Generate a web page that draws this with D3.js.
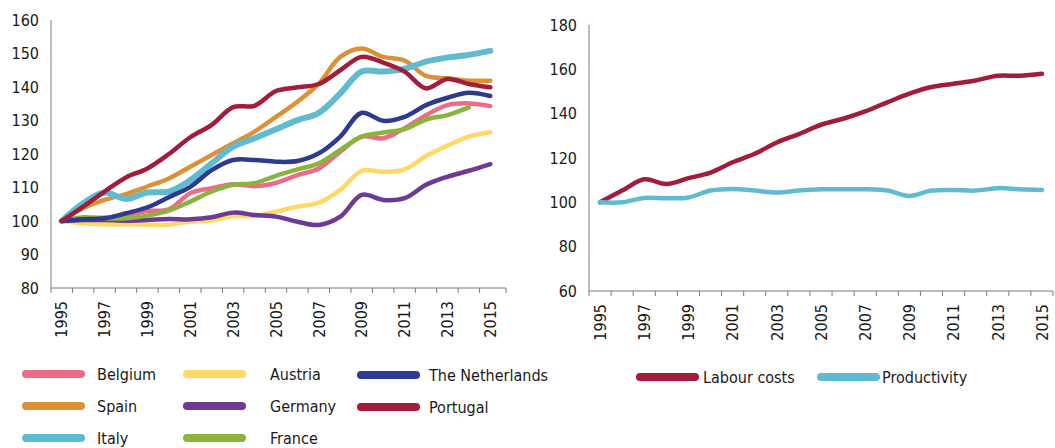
<!DOCTYPE html>
<html>
<head>
<meta charset="utf-8">
<script src="https://cdn.jsdelivr.net/npm/d3@7"></script>
<style>
  body { margin: 0; background: #fff; }
  svg { display: block; }
  .tick-label { font-family: "DejaVu Sans Condensed", "DejaVu Sans", sans-serif; font-size: 16px; fill: #1a1a1a; }
  .legend-label { font-family: "DejaVu Sans Condensed", "DejaVu Sans", sans-serif; font-size: 16px; fill: #1a1a1a; }
</style>
</head>
<body>
<svg width="1055" height="448"></svg>
<script>
var years = d3.range(1995, 2016);

// left panel: index 1995 = 100
var belgium     = [100,100.8,101,101.8,103,103.5,108.3,109.8,111,110.4,111.4,113.7,115.7,120.7,125.2,124.7,127.7,131.6,134.6,135.1,134.3];
var spain       = [100,103.8,106.3,108,110.3,112.7,116.2,119.7,123.2,126.7,131.1,135.6,141,149,151.5,149,147.9,143.3,142.6,141.9,141.9];
var italy       = [100,105.3,108.5,106.6,108.5,108.8,112.2,117.2,122.2,124.7,127.4,130.1,132.3,138.1,144.6,144.6,145.4,147.6,148.8,149.6,150.8];
var austria     = [100,99.3,99,99,98.9,98.9,99.8,100.1,101.5,101.5,102.8,104.3,105.5,109.3,115,114.7,115.4,119.4,122.5,125.2,126.5];
var germany     = [100,100.3,100.3,100.1,100.3,100.6,100.5,101.1,102.5,101.8,101.3,99.8,98.8,101.3,107.8,106.3,106.8,110.8,113.2,115,117];
var france      = [100,101.1,100.8,100.8,101.6,103.1,105.8,108.8,110.8,111.3,113.5,115.4,117.2,121.2,125.2,126.4,127.4,130.3,131.6,133.9,null];
var netherlands = [100,100.5,100.8,102.3,104.1,107.1,110.2,115.2,118.2,118.2,117.7,117.9,120.2,125.2,132.3,129.9,131.1,134.6,136.8,138.3,137.3];
var portugal    = [100,104.3,108.8,113,115.7,120,125,128.7,134,134.4,138.8,139.9,140.9,145,149,147.3,144.6,139.6,142.4,140.9,139.9];

// right panel
var labourCosts  = [100,105.3,110.4,108.3,110.9,113.4,118.1,121.9,127,130.8,135,137.7,141,145.1,149,152,153.5,155,157.1,157.1,158];
var productivity = [100,100,102,101.8,102.2,105.3,106,105.3,104.4,105.3,105.9,105.9,105.9,105.3,102.9,105.3,105.6,105.3,106.4,105.9,105.6];

var leftTicks = [80, 90, 100, 110, 120, 130, 140, 150, 160];
var rightTicks = [60, 80, 100, 120, 140, 160, 180];
var yearLabels = years.filter(function(y) { return (y - 1995) % 2 === 0; });

var leftSeries = [
  { name: "Belgium", values: belgium, color: "#ec6b89", width: 4.5 },
  { name: "Spain", values: spain, color: "#dd9136", width: 4.5 },
  { name: "Italy", values: italy, color: "#5fbcd0", width: 6 },
  { name: "Austria", values: austria, color: "#ffd966", width: 4.5 },
  { name: "Germany", values: germany, color: "#6d3a96", width: 4.5 },
  { name: "France", values: france, color: "#8bb43f", width: 4.5 },
  { name: "The Netherlands", values: netherlands, color: "#2e3a8e", width: 4.5 },
  { name: "Portugal", values: portugal, color: "#a21d3b", width: 4.5 }
];
var rightSeries = [
  { name: "Labour costs", values: labourCosts, color: "#a21d3b", width: 4.5 },
  { name: "Productivity", values: productivity, color: "#5fbcd0", width: 4.5 }
];

var svg = d3.select("svg");

function drawPanel(cfg) {
  var x = d3.scaleBand().domain(years).range([cfg.x0, cfg.x1]);
  var y = d3.scaleLinear().domain(cfg.domain).range([cfg.y1, cfg.y0]);
  var g = svg.append("g");

  // axes
  g.append("line").attr("x1", cfg.x0).attr("x2", cfg.x0).attr("y1", cfg.y0).attr("y2", cfg.y1)
    .attr("stroke", "#7a7a7a").attr("stroke-width", 1);
  g.append("line").attr("x1", cfg.x0).attr("x2", cfg.axisEnd).attr("y1", cfg.y1).attr("y2", cfg.y1)
    .attr("stroke", "#7a7a7a").attr("stroke-width", 1);
  var bounds = years.map(function(yr) { return x(yr); }).concat([cfg.axisEnd]);
  g.selectAll(".xt").data(bounds).join("line")
    .attr("x1", d => d).attr("x2", d => d)
    .attr("y1", cfg.y1).attr("y2", cfg.y1 + 5)
    .attr("stroke", "#7a7a7a");

  g.selectAll(".yl").data(cfg.ticks).join("text")
    .attr("class", "tick-label")
    .attr("x", cfg.x0 - 12)
    .attr("y", d => y(d))
    .attr("dy", "0.36em")
    .attr("text-anchor", "end")
    .text(d => d);

  g.selectAll(".xl").data(yearLabels).join("text")
    .attr("class", "tick-label")
    .attr("text-anchor", "end")
    .attr("transform", d => "translate(" + (x(d) + x.bandwidth() / 2) + "," + (cfg.y1 + 13) + ") rotate(-90)")
    .attr("dy", "0.36em")
    .text(d => d);

  var line = d3.line()
    .defined(d => d.v != null)
    .x(d => x(d.year) + x.bandwidth() / 2)
    .y(d => y(d.v))
    .curve(d3.curveCatmullRom.alpha(0.5));

  cfg.series.forEach(function(s) {
    var pts = years.map((yr, i) => ({ year: yr, v: s.values[i] })).filter(d => d.v != null);
    g.append("path")
      .datum(pts)
      .attr("d", line)
      .attr("fill", "none")
      .attr("stroke", s.color)
      .attr("stroke-width", s.width)
      .attr("stroke-linecap", "round")
      .attr("stroke-linejoin", "round");
  });
}

drawPanel({ x0: 51, x1: 501, axisEnd: 506, y0: 20, y1: 288, domain: [80, 160], ticks: leftTicks, series: leftSeries });
drawPanel({ x0: 589, x1: 1053, axisEnd: 1053, y0: 25, y1: 291, domain: [60, 180], ticks: rightTicks, series: rightSeries });

// legends
function legendItem(s, lx, ly, tx) {
  svg.append("line")
    .attr("x1", lx).attr("x2", lx + 55).attr("y1", ly).attr("y2", ly)
    .attr("stroke", s.color).attr("stroke-width", 8).attr("stroke-linecap", "round");
  svg.append("text").attr("class", "legend-label")
    .attr("x", tx).attr("y", ly).attr("dy", "0.35em").text(s.name);
}
var colX = [[26, 97], [187, 270], [361, 429]];
var rowY = [374, 406, 438];
leftSeries.forEach(function(s, i) {
  var c = Math.floor(i / 3), r = i % 3;
  legendItem(s, colX[c][0], rowY[r] + (c === 2 ? 1 : 0), colX[c][1]);
});
legendItem(rightSeries[0], 640, 377, 703);
legendItem(rightSeries[1], 821, 377, 882);
</script>
</body>
</html>
